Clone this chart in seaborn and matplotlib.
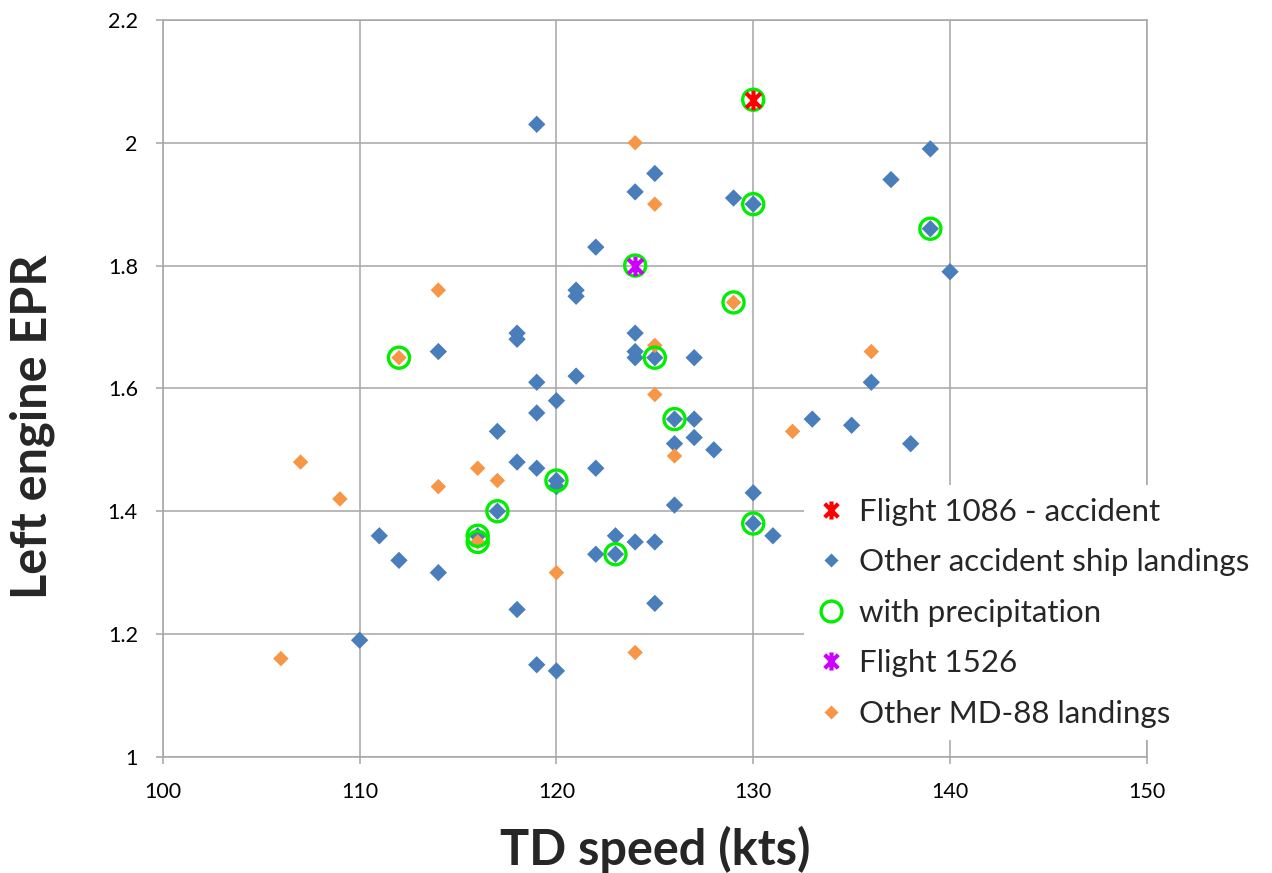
import numpy as np
import pandas as pd
import matplotlib
matplotlib.use('Agg')
import matplotlib.pyplot as plt
from matplotlib.path import Path
from matplotlib.lines import Line2D
from matplotlib.ticker import FuncFormatter, MultipleLocator
import seaborn as sns

# --- data ---
acc_speed = [119, 125, 124, 129, 130, 139, 137, 139, 140, 122, 121, 121, 118, 118, 114,
             124, 124, 124, 125, 127, 121, 119, 136, 120, 119, 117, 126, 127, 126, 127,
             128, 133, 135, 138, 118, 119, 122, 120, 120, 117, 126, 130, 130, 131, 111,
             112, 114, 116, 123, 123, 122, 124, 125, 125, 118, 110, 119, 120]
acc_epr = [2.03, 1.95, 1.92, 1.91, 1.90, 1.99, 1.94, 1.86, 1.79, 1.83, 1.76, 1.75, 1.69, 1.68, 1.66,
           1.69, 1.66, 1.65, 1.65, 1.65, 1.62, 1.61, 1.61, 1.58, 1.56, 1.53, 1.55, 1.55, 1.51, 1.52,
           1.50, 1.55, 1.54, 1.51, 1.48, 1.47, 1.47, 1.45, 1.44, 1.40, 1.41, 1.43, 1.38, 1.36, 1.36,
           1.32, 1.30, 1.36, 1.36, 1.33, 1.33, 1.35, 1.35, 1.25, 1.24, 1.19, 1.15, 1.14]

md88_speed = [124, 125, 114, 129, 125, 136, 112, 125, 126, 132, 107, 116, 117, 114, 109,
              116, 120, 124, 106]
md88_epr = [2.00, 1.90, 1.76, 1.74, 1.67, 1.66, 1.65, 1.59, 1.49, 1.53, 1.48, 1.47, 1.45, 1.44, 1.42,
            1.35, 1.30, 1.17, 1.16]

precip_speed = [130, 130, 139, 124, 129, 112, 125, 126, 120, 117, 116, 116, 123, 130]
precip_epr = [2.07, 1.90, 1.86, 1.80, 1.74, 1.65, 1.65, 1.55, 1.45, 1.40, 1.36, 1.35, 1.33, 1.38]

f1086_speed = [130]
f1086_epr = [2.07]
f1526_speed = [124]
f1526_epr = [1.80]

labels = ['Flight 1086 - accident', 'Other accident ship landings', 'with precipitation',
          'Flight 1526', 'Other MD-88 landings']

BLUE = '#4a7ebb'
ORANGE = '#f79646'
GREEN = '#00ee00'
RED = '#ff0000'
MAGENTA = '#cc00ff'
GRID = '#a6a6a6'

# asterisk marker like Excel's (X plus vertical bar)
star = Path([(0, -1), (0, 1), (-0.75, -0.75), (0.75, 0.75), (-0.75, 0.75), (0.75, -0.75)],
            [Path.MOVETO, Path.LINETO, Path.MOVETO, Path.LINETO, Path.MOVETO, Path.LINETO])

sns.set_style('white')
plt.rcParams['font.family'] = ['Lato', 'DejaVu Sans']

fig = plt.figure(figsize=(12.72, 8.73), dpi=100)
ax = fig.add_axes([0.128, 0.133, 0.7736, 0.8442])

acc = pd.DataFrame({'speed': acc_speed, 'epr': acc_epr})
md = pd.DataFrame({'speed': md88_speed, 'epr': md88_epr})
pr = pd.DataFrame({'speed': precip_speed, 'epr': precip_epr})

sns.scatterplot(data=acc, x='speed', y='epr', ax=ax, marker='D', s=78, color=BLUE,
                edgecolor='none', zorder=3)
sns.scatterplot(data=md, x='speed', y='epr', ax=ax, marker='D', s=62, color=ORANGE,
                edgecolor='none', zorder=4)
sns.scatterplot(data=pr, x='speed', y='epr', ax=ax, marker='o', s=230, facecolor='none',
                edgecolor=GREEN, linewidth=2.4, zorder=5)
ax.scatter(f1086_speed, f1086_epr, marker=star, s=200, color=RED, linewidths=3, zorder=6)
ax.scatter(f1526_speed, f1526_epr, marker=star, s=200, color=MAGENTA, linewidths=3, zorder=6)

ax.set_xlim(100, 150)
ax.set_ylim(1, 2.2)
ax.xaxis.set_major_locator(MultipleLocator(10))
ax.yaxis.set_major_locator(MultipleLocator(0.2))
ax.yaxis.set_major_formatter(FuncFormatter(lambda v, p: f'{v:g}'))
ax.grid(True, color=GRID, linewidth=1.1)
ax.set_axisbelow(True)
for s in ax.spines.values():
    s.set_color(GRID)
    s.set_linewidth(1.1)
ax.tick_params(labelsize=15.5, labelcolor='#000000', color=GRID, direction='out',
               length=5, width=1.1, pad=13, bottom=True, left=True)

ax.set_xlabel('TD speed (kts)', fontsize=35, fontweight='bold', labelpad=17)
ax.set_ylabel('Left engine EPR', fontsize=35, fontweight='bold', labelpad=38)
ax.yaxis.label.set_y(0.448)

handles = [
    Line2D([], [], linestyle='none', marker=star, markersize=13, markeredgecolor=RED, markeredgewidth=3),
    Line2D([], [], linestyle='none', marker='D', markersize=7, color=BLUE, markeredgecolor='none'),
    Line2D([], [], linestyle='none', marker='o', markersize=15, markerfacecolor='none',
           markeredgecolor=GREEN, markeredgewidth=2.4),
    Line2D([], [], linestyle='none', marker=star, markersize=13, markeredgecolor=MAGENTA, markeredgewidth=3),
    Line2D([], [], linestyle='none', marker='D', markersize=7, color=ORANGE, markeredgecolor='none'),
]
leg = fig.legend(handles, labels, loc='upper left', bbox_to_anchor=(0.62, 0.462),
                 fontsize=22.5, frameon=True, facecolor='white', edgecolor='none', framealpha=1,
                 handlelength=0.9, handletextpad=0.45, labelspacing=0.72, borderpad=0.4)
leg.set_zorder(10)

fig.savefig('out.png', dpi=100)
